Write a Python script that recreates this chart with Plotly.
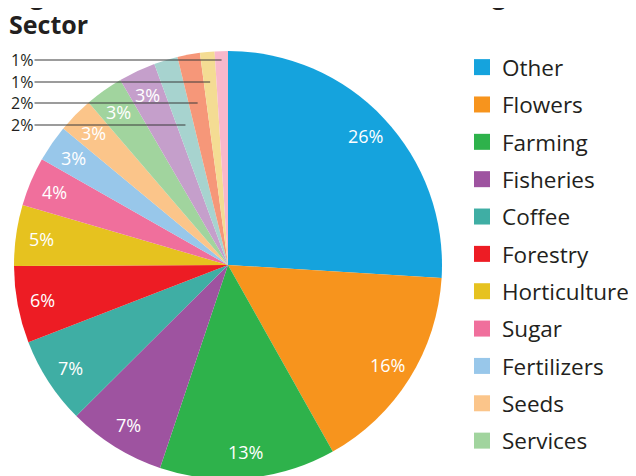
import math
import plotly.graph_objects as go

# ---- data ----
categories = ["Other", "Flowers", "Farming", "Fisheries", "Coffee", "Forestry",
              "Horticulture", "Sugar", "Fertilizers", "Seeds", "Services",
              "Livestock", "Dairy", "Tea", "Poultry", "Irrigation"]
values = [26.0, 15.9, 13.3, 7.4, 6.6, 5.8, 4.6, 3.7, 2.8, 2.7, 2.9, 2.8, 1.8, 1.7, 1.1, 1.0]
colors = ["#15A3DD", "#F7941D", "#2EB24B", "#9E53A0", "#3FAEA4", "#ED1C24",
          "#E6C21F", "#F06F9C", "#98C7EA", "#FBC58A", "#A1D49E",
          "#C59FCB", "#A7D3CF", "#F69779", "#F4DC93", "#F8B8CB"]
legend_count = 11          # entries visible in the (cropped) legend
outside_min = 3            # slices below this percent are labelled outside

title_lines = ["Figure 4: Distribution of Credit to the Agricultural", "Sector"]

FONT = "Open Sans"
DARK = "#231F20"
W, H = 636, 476

total = sum(values)
pcts = [round(v / total * 100) for v in values]

# pie geometry (figure pixels)
cx, cy, R = 220, 257, 214
MT = cy - R
MB = H - (cy + R)
PH = H - MT - MB
LABEL_R = 0.88

fig = go.Figure()
fig.add_trace(go.Pie(
    labels=categories, values=values, sort=False, direction="clockwise", rotation=0,
    marker=dict(colors=colors, line=dict(width=0)),
    textinfo="none",
    domain=dict(x=[(cx - R) / W, (cx + R) / W], y=[0, 1]),
    showlegend=False, hoverinfo="label+percent",
))

# legend entries (cropped legend shows the first entries only)
for i in range(legend_count):
    fig.add_trace(go.Scatter(
        x=[None], y=[None], mode="markers", name=categories[i],
        legendgroup=categories[i],
        marker=dict(symbol="square", size=16, color=colors[i], line=dict(width=0)),
        showlegend=True, hoverinfo="skip",
    ))

def to_paper(xpx, ypx):
    return xpx / W, (H - MB - ypx) / PH

cum = [sum(values[:i]) for i in range(len(values))]
mids = [(cum[i] + values[i] / 2) / total * 2 * math.pi for i in range(len(values))]

annotations = []
# inside percentage labels
for i, p in enumerate(pcts):
    if p < outside_min:
        continue
    xpx = cx + LABEL_R * R * math.sin(mids[i])
    ypx = cy - LABEL_R * R * math.cos(mids[i])
    px, py = to_paper(xpx, ypx)
    annotations.append(dict(
        x=px, y=py, xref="paper", yref="paper", text=f"{p}%", showarrow=False,
        font=dict(family=FONT, size=18, color="white"),
        xanchor="center", yanchor="middle",
    ))

# outside labels for small slices with horizontal leader lines
small = [i for i, p in enumerate(pcts) if p < outside_min]
row_y = [52, 74, 95, 117]  # label rows in px from top, last slice first
for k, i in enumerate(reversed(small)):
    ypx = row_y[k]
    xpx = cx + (cy - ypx) * math.tan(mids[i])
    px, py = to_paper(xpx, ypx)
    annotations.append(dict(
        x=px, y=py, xref="paper", yref="paper",
        text=f"{pcts[i]}%", showarrow=True, arrowhead=0, arrowwidth=1.2,
        arrowcolor="#3a3a3a", ax=14 - xpx, ay=0, axref="pixel", ayref="pixel",
        font=dict(family=FONT, size=16, color=DARK), xanchor="center",
        standoff=0,
    ))

# title (first line runs off the top edge, as in the reference)
for line, ysh in zip(title_lines, [38, 8]):
    annotations.append(dict(
        text=line, xref="paper", yref="paper", x=0, y=1,
        xanchor="left", yanchor="bottom", xshift=-1, yshift=ysh,
        align="left", showarrow=False,
        font=dict(family=FONT, size=25, color=DARK, weight=700),
    ))

fig.update_layout(
    width=W, height=H,
    margin=dict(l=0, r=0, t=MT, b=MB, pad=0, autoexpand=False),
    paper_bgcolor="white", plot_bgcolor="white",
    xaxis=dict(visible=False), yaxis=dict(visible=False),
    legend=dict(x=454 / W, xanchor="left", xref="container",
                y=1 - 38 / H, yanchor="top", yref="container",
                maxheight=470,
                font=dict(family=FONT, size=22.5, color=DARK),
                traceorder="grouped", tracegroupgap=5.1,
                bgcolor="rgba(0,0,0,0)", borderwidth=0),
    annotations=annotations,
)

fig.write_html("out.html")
